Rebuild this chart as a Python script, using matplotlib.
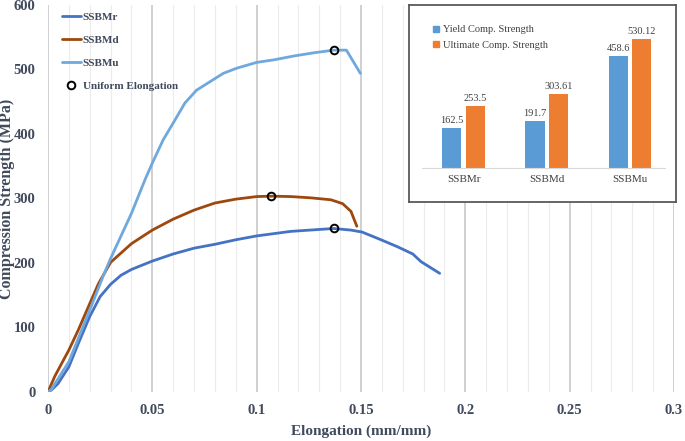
import matplotlib.pyplot as plt
from matplotlib.lines import Line2D
from matplotlib.ticker import MultipleLocator

# stress-strain curves
strain_r = [0, 0.0016, 0.0048, 0.01, 0.0145, 0.02, 0.025, 0.03, 0.035, 0.04, 0.05, 0.06, 0.07,
            0.08, 0.09, 0.1, 0.1163, 0.1369, 0.1452, 0.1505, 0.1596, 0.1676, 0.1748, 0.1788, 0.1877]
stress_r = [0, 3, 13, 39, 75, 117, 148, 167, 181, 190, 203, 214, 223,
            229, 236, 242, 249, 253.5, 251, 248, 236, 225, 214, 202, 184]

strain_d = [0, 0.0032, 0.0065, 0.01, 0.0145, 0.02, 0.0242, 0.03, 0.04, 0.05, 0.06, 0.07, 0.08,
            0.09, 0.1, 0.1071, 0.1163, 0.126, 0.1356, 0.1412, 0.1452, 0.148]
stress_d = [0, 24, 44, 65, 96, 137, 168, 201, 230, 251, 268, 282, 293,
            299, 303, 303.6, 303, 301, 298, 292, 280, 257]

strain_u = [0, 0.0016, 0.01, 0.02, 0.0266, 0.03, 0.04, 0.0466, 0.05, 0.0552, 0.06, 0.0656,
            0.0712, 0.0776, 0.084, 0.0904, 0.1, 0.1083, 0.1179, 0.1276, 0.1369, 0.143, 0.1497]
stress_u = [0, 4, 47, 127, 181, 207, 277, 330, 355, 391, 417, 448,
            468, 481, 494, 502, 511, 515, 521, 526, 530, 530, 494]

samples = ['SSBMr', 'SSBMd', 'SSBMu']
yield_strength = [162.5, 191.7, 458.6]
ultimate_strength = [253.5, 303.61, 530.12]
yield_labels = ['162.5', '191.7', '458.6']
ultimate_labels = ['253.5', '303.61', '530.12']
uniform_strain = [0.137, 0.107, 0.137]
uniform_stress = [253.5, 303.61, 530.12]

c_r, c_d, c_u = '#4472C4', '#9E480E', '#6FA8DC'
txt = '#404a5c'
serif = 'Liberation Serif'

fig = plt.figure(figsize=(6.85, 4.41), dpi=100)
ax = fig.add_axes([48 / 685, 1 - 392 / 441, (674 - 48) / 685, 387 / 441])

line_kw = dict(lw=2, solid_joinstyle='round', solid_capstyle='round')
ax.plot(strain_r, stress_r, color=c_r, label='SSBMr', **line_kw)
ax.plot(strain_d, stress_d, color=c_d, label='SSBMd', **line_kw)
ax.plot(strain_u, stress_u, color=c_u, label='SSBMu', **line_kw)
ax.plot(uniform_strain, uniform_stress, 'o', ms=5.5, mfc='none', mec='black', mew=1.4,
        label='Uniform Elongation', zorder=5)

ax.set_xlim(0, 0.3)
ax.set_ylim(0, 600)
ax.xaxis.set_major_locator(MultipleLocator(0.05))
ax.xaxis.set_minor_locator(MultipleLocator(0.01))
ax.yaxis.set_major_locator(MultipleLocator(100))
ax.grid(axis='x', which='major', color='#c8c8c8', lw=1.2)
ax.grid(axis='x', which='minor', color='#ececec', lw=0.8)
ax.set_axisbelow(True)
for s in ax.spines.values():
    s.set_visible(False)
ax.tick_params(which='both', length=0)
ax.tick_params(axis='x', pad=9)
ax.tick_params(axis='y', pad=9)
ax.set_xticks([0, 0.05, 0.1, 0.15, 0.2, 0.25, 0.3])
ax.set_xticklabels(['0', '0.05', '0.1', '0.15', '0.2', '0.25', '0.3'])
for lab in ax.get_xticklabels() + ax.get_yticklabels():
    lab.set_fontfamily(serif)
    lab.set_fontweight('bold')
    lab.set_fontsize(10.5)
    lab.set_color(txt)
ax.set_xlabel('Elongation (mm/mm)', fontfamily=serif, fontweight='bold', fontsize=11, color=txt)
ax.set_ylabel('Compression Strength (MPa)', fontfamily=serif, fontweight='bold', fontsize=11.5, color=txt)
ax.xaxis.set_label_coords(0.5, -0.085)
ax.yaxis.set_label_coords(-0.052, 0.5)

leg = ax.legend(loc='upper left', bbox_to_anchor=(62 / 685, 1 - 12 / 441), bbox_transform=fig.transFigure,
                frameon=False, borderaxespad=0, borderpad=0, handlelength=1.7, handletextpad=0.15,
                labelspacing=1.2, prop={'family': serif, 'weight': 'bold', 'size': 8})
for t in leg.get_texts():
    t.set_color(txt)

# inset box
box = fig.add_axes([409 / 685, 1 - 202 / 441, 267 / 685, 197 / 441], zorder=3)
box.set_xticks([])
box.set_yticks([])
for s in box.spines.values():
    s.set_color('#595959')
    s.set_linewidth(1.3)

bx = fig.add_axes([422 / 685, 1 - 167.7 / 441, 243 / 685, 146 / 441], zorder=4)
bx.patch.set_alpha(0)
pos = list(range(len(samples)))
w = 0.23
yb = bx.bar([p - 0.142 for p in pos], yield_strength, w, color='#5B9BD5', label='Yield Comp. Strength')
ub = bx.bar([p + 0.142 for p in pos], ultimate_strength, w, color='#ED7D31', label='Ultimate Comp. Strength')
for rect, lab in zip(yb, yield_labels):
    bx.text(rect.get_x() + rect.get_width() / 2, rect.get_height() + 12, lab, ha='center', va='bottom',
            fontfamily=serif, fontsize=7.5, color='#404040')
for rect, lab in zip(ub, ultimate_labels):
    bx.text(rect.get_x() + rect.get_width() / 2, rect.get_height() + 12, lab, ha='center', va='bottom',
            fontfamily=serif, fontsize=7.5, color='#404040')
bx.set_xlim(-0.5, 2.42)
bx.set_ylim(0, 600)
bx.set_xticks(pos)
bx.set_xticklabels(samples, fontfamily=serif, fontsize=8, color='#404040')
bx.set_yticks([])
bx.tick_params(length=0, pad=5)
for side in ['top', 'right', 'left']:
    bx.spines[side].set_visible(False)
bx.spines['bottom'].set_color('#d9d9d9')

handles = [Line2D([], [], marker='s', ls='none', color='#5B9BD5', ms=4.5),
           Line2D([], [], marker='s', ls='none', color='#ED7D31', ms=4.5)]
bleg = bx.legend(handles, ['Yield Comp. Strength', 'Ultimate Comp. Strength'], loc='upper left',
                 bbox_to_anchor=(432 / 685, 1 - 25 / 441), bbox_transform=fig.transFigure,
                 frameon=False, borderaxespad=0, borderpad=0, handlelength=0.8, handletextpad=0.3,
                 labelspacing=0.6, prop={'family': serif, 'size': 7.5})
for t in bleg.get_texts():
    t.set_color('#404040')

fig.savefig('out.png', dpi=100)
